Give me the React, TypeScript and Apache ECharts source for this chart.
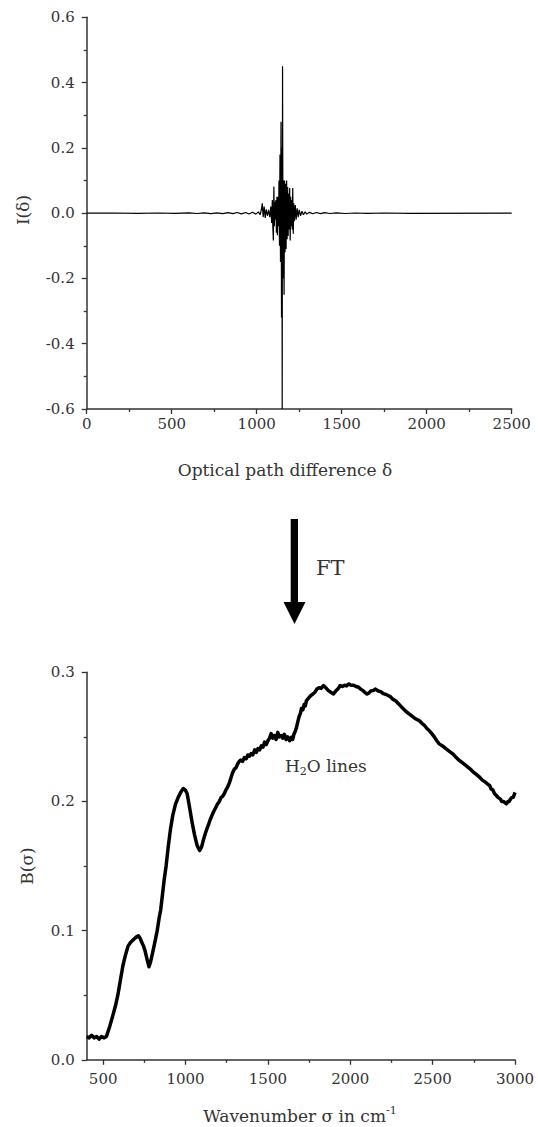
import React, { useEffect, useRef } from "react";
import * as echarts from "echarts";

// Interferogram (top): optical path difference δ vs I(δ)
const TOP_X = [
  0, 150, 300, 420, 520, 600, 650, 690, 730, 765, 800, 830, 860, 885, 910, 935, 955, 975, 995,
  1010, 1020, 1028, 1033, 1038, 1044, 1050, 1056, 1063, 1070, 1077, 1083, 1088, 1092,
  1095, 1098, 1101, 1104, 1107, 1110, 1113, 1116, 1119, 1122, 1125, 1128, 1131, 1134,
  1137, 1140, 1143, 1146, 1148, 1150, 1152, 1155, 1158, 1161, 1164, 1167, 1170, 1173, 1176, 1179, 1182, 1185,
  1188, 1191, 1194, 1197, 1200, 1203, 1206, 1209, 1212, 1215, 1218, 1222, 1227, 1232, 1238, 1244,
  1250, 1258, 1266, 1275, 1285, 1295, 1310, 1330, 1350, 1375, 1400, 1430, 1470, 1520, 1580, 1650, 1750, 1900, 2500,
];
const TOP_Y = [
  0, 0.0005, -0.0005, 0.0005, -0.0005, 0.001, -0.001, 0.001, -0.0015, 0.001, -0.0015, 0.0015, -0.0015, 0.002, -0.002, 0.002, -0.0025, 0.0025, -0.003,
  0.004, -0.005, 0.012, 0.03, -0.012, 0.02, -0.015, 0.012, -0.008, 0.01, -0.012, 0.02, -0.03, 0.04,
  -0.045, -0.084, 0.082, -0.04, 0.035, -0.02, 0.04, -0.06, 0.05, -0.068, 0.05, -0.04, 0.1, -0.1,
  0.18, -0.15, 0.28, -0.32, 0.2, -0.6, 0.45, -0.2, 0.1, -0.25, 0.1, -0.12, 0.09, -0.11, 0.1, -0.08, 0.08, -0.07,
  0.06, -0.05, 0.077, -0.084, 0.05, -0.04, 0.04, -0.05, 0.077, -0.063, 0.03, -0.025, 0.025, -0.02, 0.015, -0.012,
  0.01, -0.008, 0.006, -0.005, 0.004, -0.003, 0.0025, -0.002, 0.002, -0.0015, 0.0015, -0.001, 0.001, -0.001, 0.0005, -0.0005, 0.0005, -0.0005, 0,
];

// Spectrum (bottom): wavenumber σ vs B(σ)
const BOT_X = [
  400, 415, 430, 445, 460, 475, 490, 505, 520, 540, 558, 575, 589, 605, 620, 635, 651, 667, 683, 700, 714, 725, 734, 745,
  755, 766, 778, 788, 797, 812, 828, 840, 849, 860, 870, 882, 895, 908, 922, 939, 955, 970, 986, 998, 1010, 1025,
  1041, 1055, 1070, 1086, 1098, 1110, 1122, 1133, 1142, 1150, 1160, 1170, 1182, 1194, 1205, 1215, 1225, 1235, 1245, 1255,
  1265, 1275, 1285, 1296, 1306, 1316, 1326, 1335, 1346, 1357, 1368, 1378, 1388, 1398, 1408, 1420, 1430, 1440, 1450,
  1460, 1470, 1480, 1490, 1500, 1510, 1520, 1530, 1540, 1550, 1560, 1570, 1581, 1590, 1600, 1610, 1620, 1632, 1642,
  1650, 1658, 1665, 1673, 1682, 1690, 1697, 1704, 1712, 1720, 1727, 1734, 1747, 1760, 1772, 1785, 1797, 1810, 1823,
  1837, 1852, 1867, 1882, 1898, 1915, 1927, 1939, 1952, 1965, 1977, 1990, 2005, 2020, 2035, 2051, 2063, 2075, 2088,
  2102, 2113, 2125, 2140, 2153, 2170, 2185, 2200, 2214, 2230, 2245, 2260, 2275, 2290, 2305, 2320, 2336, 2355, 2375,
  2396, 2418, 2435, 2450, 2465, 2479, 2495, 2510, 2525, 2540, 2560, 2580, 2600, 2622, 2640, 2660, 2680, 2703, 2725,
  2745, 2765, 2785, 2802, 2820, 2833, 2846, 2856, 2865, 2876, 2887, 2898, 2910, 2920, 2930, 2940, 2948, 2957, 2965,
  2973, 2980, 2990, 3000,
];
const BOT_Y = [
  0.018, 0.017, 0.019, 0.017, 0.018, 0.016, 0.018, 0.017, 0.018, 0.026, 0.034, 0.042, 0.05, 0.062, 0.073, 0.081, 0.088, 0.091, 0.093, 0.095, 0.096, 0.094, 0.091, 0.088,
  0.084, 0.078, 0.072, 0.076, 0.081, 0.09, 0.1, 0.11, 0.116, 0.128, 0.139, 0.15, 0.165, 0.178, 0.189, 0.198, 0.203, 0.207, 0.21, 0.209, 0.206, 0.195,
  0.183, 0.174, 0.166, 0.162, 0.165, 0.171, 0.176, 0.18, 0.183, 0.186, 0.189, 0.192, 0.195, 0.198, 0.2, 0.203, 0.204, 0.206, 0.209, 0.211,
  0.214, 0.218, 0.222, 0.225, 0.226, 0.229, 0.231, 0.232, 0.231, 0.234, 0.233, 0.236, 0.235, 0.237, 0.236, 0.24, 0.238, 0.241, 0.24,
  0.243, 0.242, 0.246, 0.244, 0.247, 0.249, 0.2525, 0.249, 0.251, 0.248, 0.2535, 0.25, 0.251, 0.249, 0.252, 0.248, 0.25, 0.247, 0.2497,
  0.248, 0.252, 0.254, 0.257, 0.262, 0.266, 0.268, 0.272, 0.271, 0.275, 0.274, 0.278, 0.28, 0.282, 0.283, 0.2845, 0.287, 0.288, 0.2875,
  0.2897, 0.288, 0.2858, 0.2845, 0.2832, 0.286, 0.2875, 0.2897, 0.289, 0.29, 0.2895, 0.291, 0.29, 0.29, 0.289, 0.2884, 0.287, 0.286, 0.2845,
  0.2832, 0.284, 0.2855, 0.286, 0.287, 0.2855, 0.285, 0.2835, 0.283, 0.282, 0.281, 0.279, 0.278, 0.276, 0.274, 0.272, 0.27, 0.268, 0.266,
  0.264, 0.2626, 0.2605, 0.259, 0.2565, 0.2549, 0.2525, 0.25, 0.247, 0.2446, 0.243, 0.241, 0.239, 0.2369, 0.2345, 0.232, 0.23, 0.2278, 0.2255,
  0.223, 0.221, 0.2188, 0.2165, 0.215, 0.2135, 0.2124, 0.2095, 0.209, 0.206, 0.2046, 0.203, 0.202, 0.2, 0.2, 0.199, 0.1982, 0.2, 0.2,
  0.202, 0.203, 0.2033, 0.207,
];

const BOT_LABEL_TICKS = [500, 1000, 1500, 2000, 2500, 3000];
const BOT_MINOR_TICKS = [750, 1250, 1750, 2250, 2750];

const FONT = "DejaVu Serif";
const TXT = "#333";
const AX = "#333";

export default function App() {
  const ref = useRef<HTMLDivElement>(null);
  useEffect(() => {
    if (!ref.current) return;
    const chart = echarts.init(ref.current, undefined, { renderer: "svg" });
    const axisLine = { show: true, onZero: false, lineStyle: { color: AX, width: 1.5 } };
    const label = (margin: number) => ({ color: TXT, fontFamily: FONT, fontSize: 15, margin });
    const yFmt = (v: number) => v.toFixed(1);
    const xFmt = (v: number) => String(Math.round(v));
    chart.setOption({
      animation: false,
      backgroundColor: "#fff",
      grid: [
        { left: 86.7, top: 17.3, width: 425, height: 391.7 },
        { left: 86.7, top: 672.3, width: 428.3, height: 387.5 },
      ],
      xAxis: [
        {
          gridIndex: 0, type: "value", min: 0, max: 2500, interval: 500,
          axisLine, axisTick: { show: true, length: 5, lineStyle: { color: AX, width: 1.3 } },
          minorTick: { show: true, splitNumber: 2, length: 3, lineStyle: { color: AX, width: 1.3 } },
          splitLine: { show: false }, minorSplitLine: { show: false },
          axisLabel: { ...label(7), formatter: xFmt },
        },
        {
          gridIndex: 1, type: "value", min: 400, max: 3000, position: "bottom",
          axisLine,
          axisTick: { show: true, length: 5, customValues: BOT_LABEL_TICKS, lineStyle: { color: AX, width: 1.3 } },
          splitLine: { show: false },
          axisLabel: { ...label(12), customValues: BOT_LABEL_TICKS, formatter: xFmt },
        },
        {
          gridIndex: 1, type: "value", min: 400, max: 3000, position: "bottom",
          axisLine: { show: false },
          axisTick: { show: true, length: 3, customValues: BOT_MINOR_TICKS, lineStyle: { color: AX, width: 1.3 } },
          splitLine: { show: false },
          axisLabel: { show: false },
        },
      ],
      yAxis: [
        {
          gridIndex: 0, type: "value", min: -0.6, max: 0.6, interval: 0.2,
          axisLine, axisTick: { show: true, length: 5, lineStyle: { color: AX, width: 1.3 } },
          minorTick: { show: true, splitNumber: 2, length: 3, lineStyle: { color: AX, width: 1.3 } },
          splitLine: { show: false }, minorSplitLine: { show: false },
          axisLabel: { ...label(12), formatter: yFmt },
        },
        {
          gridIndex: 1, type: "value", min: 0, max: 0.3, interval: 0.1,
          axisLine, axisTick: { show: true, length: 5, lineStyle: { color: AX, width: 1.3 } },
          minorTick: { show: true, splitNumber: 2, length: 3, lineStyle: { color: AX, width: 1.3 } },
          splitLine: { show: false }, minorSplitLine: { show: false },
          axisLabel: { ...label(12), formatter: yFmt },
        },
      ],
      series: [
        {
          type: "line", xAxisIndex: 0, yAxisIndex: 0, showSymbol: false, symbol: "none",
          data: TOP_X.map((x, i) => [x, TOP_Y[i]]),
          lineStyle: { color: "#000", width: 1.2 },
        },
        {
          type: "line", xAxisIndex: 1, yAxisIndex: 1, showSymbol: false, symbol: "none",
          data: BOT_X.map((x, i) => [x, BOT_Y[i]]),
          lineStyle: { color: "#000", width: 3.5, join: "round" },
        },
      ],
      graphic: [
        {
          type: "text", x: 285, y: 470,
          style: { text: "Optical path difference δ", fill: TXT, fontFamily: FONT, fontSize: 17, align: "center", verticalAlign: "middle" },
        },
        {
          type: "text", x: 23, y: 210, rotation: Math.PI / 2,
          style: { text: "I(δ)", fill: TXT, fontFamily: FONT, fontSize: 17, align: "center", verticalAlign: "middle" },
        },
        {
          type: "text", x: 27, y: 866, rotation: Math.PI / 2,
          style: { text: "B(σ)", fill: TXT, fontFamily: FONT, fontSize: 17, align: "center", verticalAlign: "middle" },
        },
        { type: "rect", shape: { x: 290.7, y: 519, width: 7.3, height: 85 }, style: { fill: "#000" } },
        { type: "polygon", shape: { points: [[283.5, 602], [305.5, 602], [294.5, 624]] }, style: { fill: "#000" } },
        {
          type: "text", x: 316, y: 568,
          style: { text: "FT", fill: TXT, fontFamily: FONT, fontSize: 21, align: "left", verticalAlign: "middle" },
        },
        {
          type: "text", x: 285, y: 766,
          style: {
            text: "{m|H}{sub|2}{m|O lines}", fill: TXT, align: "left", verticalAlign: "middle",
            rich: {
              m: { fontFamily: FONT, fontSize: 17, lineHeight: 22, fill: TXT },
              sub: { fontFamily: FONT, fontSize: 11, lineHeight: 12, verticalAlign: "bottom", fill: TXT },
            },
          },
        },
        {
          type: "text", x: 300, y: 1116,
          style: {
            text: "{m|Wavenumber σ in cm}{sup|-1}", fill: TXT, align: "center", verticalAlign: "middle",
            rich: {
              m: { fontFamily: FONT, fontSize: 17, lineHeight: 22, fill: TXT },
              sup: { fontFamily: FONT, fontSize: 11, lineHeight: 13, verticalAlign: "top", fill: TXT },
            },
          },
        },
      ],
    });
    return () => chart.dispose();
  }, []);
  return (
    <div
      ref={ref}
      style={{ position: "absolute", left: 0, top: 0, width: 538, height: 1127, background: "#fff" }}
    />
  );
}
